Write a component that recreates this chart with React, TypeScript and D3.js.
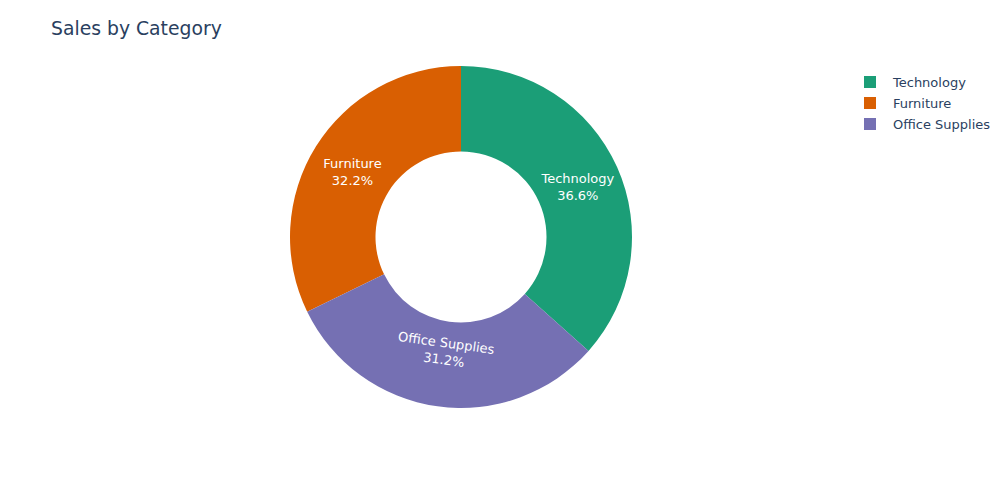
import React from "react";
import * as d3 from "d3";

const categories = ["Technology", "Furniture", "Office Supplies"];
const sharePct = [36.6, 32.2, 31.2];
const colors = ["#1b9e77", "#d95f02", "#7570b3"];
const textOrientation = ["horizontal", "horizontal", "tangential"];
const title = "Sales by Category";

const W = 1005;
const H = 490;
const cx = 461;
const cy = 237;
const outerR = 171;
const innerR = 85.5;
const FONT = "'DejaVu Sans', Verdana, sans-serif";

export default function App() {
  const data = categories.map((c, i) => ({ cat: c, value: sharePct[i], i }));
  const total = d3.sum(sharePct);
  // Plotly-like counterclockwise layout: first slice ends at 12 o'clock.
  const a0 = (sharePct[0] / total) * 2 * Math.PI;
  const pie = d3
    .pie<any>()
    .value((d) => d.value)
    .sort(null)
    .startAngle(a0)
    .endAngle(a0 - 2 * Math.PI);
  const arcs = pie(data);
  const arc = d3.arc<any>().innerRadius(innerR).outerRadius(outerR);

  return (
    <svg width={W} height={H} style={{ position: "absolute", left: 0, top: 0, background: "#fff" }}>
      <text x={51} y={34.5} fontFamily={FONT} fontSize={18.8} fill="#2a3f5f">
        {title}
      </text>
      <g transform={`translate(${cx},${cy})`}>
        {arcs.map((a, k) => {
          const s = Math.min(a.startAngle, a.endAngle);
          const e = Math.max(a.startAngle, a.endAngle);
          const d = arc({ ...a, startAngle: s, endAngle: e }) as string;
          return <path key={k} d={d} fill={colors[a.data.i]} />;
        })}
        {arcs.map((a, k) => {
          const s = Math.min(a.startAngle, a.endAngle);
          const e = Math.max(a.startAngle, a.endAngle);
          let mid = (s + e) / 2;
          if (mid < 0) mid += 2 * Math.PI;
          const orient = textOrientation[a.data.i];
          const r = orient === "tangential" ? 113 : 128;
          const x = r * Math.sin(mid);
          const y = -r * Math.cos(mid);
          const midDeg = (mid * 180) / Math.PI;
          let rot = 0;
          if (orient === "tangential") {
            rot = midDeg > 90 && midDeg < 270 ? midDeg - 180 : midDeg;
          }
          return (
            <g key={"t" + k} transform={`translate(${x},${y}) rotate(${rot})`}>
              <text textAnchor="middle" fontFamily={FONT} fontSize={13} fill="#fff" y={-1.5}>
                {a.data.cat}
              </text>
              <text textAnchor="middle" fontFamily={FONT} fontSize={13} fill="#fff" y={15.5}>
                {a.data.value.toFixed(1) + "%"}
              </text>
            </g>
          );
        })}
      </g>
      <g transform="translate(864,82)">
        {categories.map((c, i) => (
          <g key={c} transform={`translate(0,${i * 21})`}>
            <rect x={0} y={-6} width={12} height={12} fill={colors[i]} />
            <text x={29} y={5} fontFamily={FONT} fontSize={13} fill="#2a3f5f">
              {c}
            </text>
          </g>
        ))}
      </g>
    </svg>
  );
}
